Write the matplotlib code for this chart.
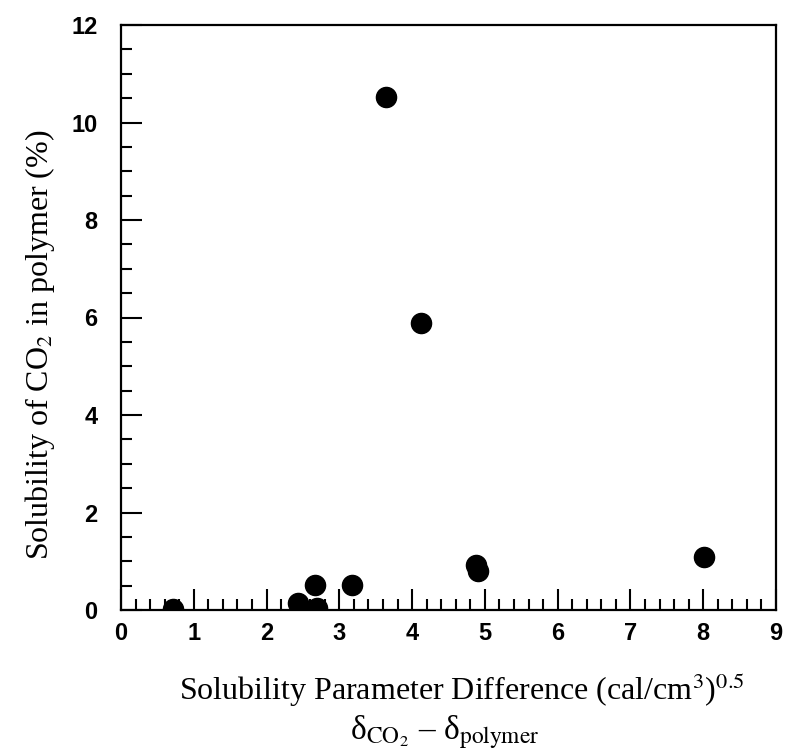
import numpy as np
import matplotlib
matplotlib.use("Agg")
import matplotlib.pyplot as plt
from matplotlib.ticker import MultipleLocator

# solubility parameter difference vs CO2 solubility
delta_diff = [0.72, 2.43, 2.69, 2.66, 3.17, 3.64, 4.12, 4.88, 4.90, 8.01]
solubility = [0.02, 0.15, 0.05, 0.51, 0.51, 10.52, 5.89, 0.92, 0.80, 1.09]

plt.rcParams['mathtext.fontset'] = 'stix'

fig = plt.figure(figsize=(7.86, 7.55), dpi=100)
ax = fig.add_axes([121/786, 145/755, 655/786, 585/755])

ax.plot(delta_diff, solubility, 'o', color='black', markersize=14.5, clip_on=True)

ax.set_xlim(0, 9)
ax.set_ylim(0, 12)
ax.xaxis.set_major_locator(MultipleLocator(1))
ax.xaxis.set_minor_locator(MultipleLocator(0.2))
ax.yaxis.set_major_locator(MultipleLocator(2))
ax.yaxis.set_minor_locator(MultipleLocator(0.5))
ax.tick_params(which='both', direction='in', top=False, right=False, width=1.5)
ax.tick_params(which='major', length=15)
ax.tick_params(axis='x', which='major', pad=9)
ax.tick_params(axis='y', which='major', pad=17)
ax.tick_params(which='minor', length=8)
for s in ax.spines.values():
    s.set_linewidth(1.6)

for lab in ax.get_xticklabels() + ax.get_yticklabels():
    lab.set_fontfamily('Liberation Sans')
    lab.set_fontweight('bold')
    lab.set_fontsize(17)

fig.text(462/786, 1 - 690/755, r'Solubility Parameter Difference (cal/cm$^3$)$^{0.5}$',
         ha='center', va='center', family='Liberation Serif', fontsize=23)
fig.text(445/786, 1 - 732/755, r'δ$_{\mathrm{CO_2}}$ – δ$_{\mathrm{polymer}}$',
         ha='center', va='center', family='Liberation Serif', fontsize=24)
fig.text(40/786, 1 - 345/755, r'Solubility of CO$_2$ in polymer (%)', rotation=90,
         ha='center', va='center', family='Liberation Serif', fontsize=23)

fig.savefig('out.png', dpi=100)
